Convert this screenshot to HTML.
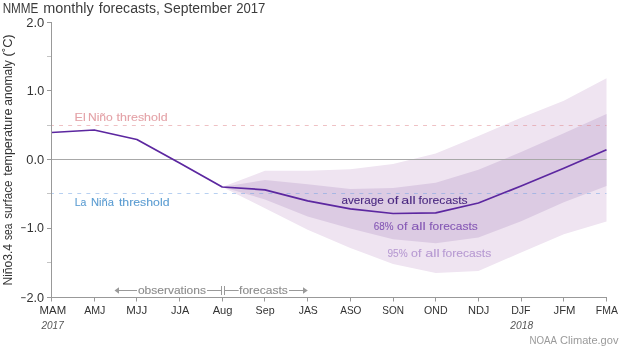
<!DOCTYPE html>
<html><head><meta charset="utf-8"><style>
html,body{margin:0;padding:0;background:#fff;}
svg{display:block;will-change:transform;font-family:"Liberation Sans",sans-serif;}
</style></head><body>
<svg width="620" height="347" viewBox="0 0 620 347">
<rect width="620" height="347" fill="#fff"/>
<polygon points="222.27,187.00 264.96,170.80 307.65,170.80 350.35,169.30 393.04,164.00 435.73,153.50 478.42,136.10 521.12,117.70 563.81,100.80 606.50,78.20 606.50,221.50 563.81,234.30 521.12,252.50 478.42,271.00 435.73,273.00 393.04,263.90 350.35,248.00 307.65,229.80 264.96,208.30 222.27,187.00" fill="#efe4f1"/>
<polygon points="222.27,187.00 264.96,180.00 307.65,184.20 350.35,189.00 393.04,188.00 435.73,182.70 478.42,169.80 521.12,152.00 563.81,133.30 606.50,114.00 606.50,186.00 563.81,202.30 521.12,221.20 478.42,237.40 435.73,243.20 393.04,239.30 350.35,228.60 307.65,216.50 264.96,199.40 222.27,187.00" fill="#dccbe3"/>
<line x1="51.5" y1="159.5" x2="606.5" y2="159.5" stroke="#a8a8a8" stroke-width="1"/>
<line x1="50" y1="125.5" x2="606.5" y2="125.5" stroke="#e0838a" stroke-opacity="0.5" stroke-width="1" stroke-dasharray="3.9,5.2"/>
<line x1="50" y1="193.5" x2="606.5" y2="193.5" stroke="#70a2e4" stroke-opacity="0.5" stroke-width="1" stroke-dasharray="3.9,5.2"/>
<polyline points="51.50,132.50 94.19,130.00 136.88,139.50 179.58,163.00 222.27,187.00 264.96,189.80 307.65,200.80 350.35,208.80 393.04,213.50 435.73,212.90 478.42,203.00 521.12,186.00 563.81,168.30 606.50,149.70" fill="none" stroke="#5c27a0" stroke-width="1.75" stroke-linejoin="round"/>
<line x1="51.5" y1="22" x2="51.5" y2="301.5" stroke="#999" stroke-width="1"/>
<line x1="47" y1="297.5" x2="607" y2="297.5" stroke="#999" stroke-width="1"/>
<line x1="47" y1="22.5" x2="51" y2="22.5" stroke="#999" stroke-width="1"/>
<line x1="47" y1="90.5" x2="51" y2="90.5" stroke="#999" stroke-width="1"/>
<line x1="47" y1="159.5" x2="51" y2="159.5" stroke="#999" stroke-width="1"/>
<line x1="47" y1="228.5" x2="51" y2="228.5" stroke="#999" stroke-width="1"/>
<line x1="47" y1="56.5" x2="51" y2="56.5" stroke="#c4c4c4" stroke-width="1"/>
<line x1="47" y1="125.5" x2="51" y2="125.5" stroke="#c4c4c4" stroke-width="1"/>
<line x1="47" y1="193.5" x2="51" y2="193.5" stroke="#c4c4c4" stroke-width="1"/>
<line x1="47" y1="262.5" x2="51" y2="262.5" stroke="#c4c4c4" stroke-width="1"/>
<line x1="94.5" y1="297" x2="94.5" y2="301.5" stroke="#999" stroke-width="1"/>
<line x1="136.5" y1="297" x2="136.5" y2="301.5" stroke="#999" stroke-width="1"/>
<line x1="179.5" y1="297" x2="179.5" y2="301.5" stroke="#999" stroke-width="1"/>
<line x1="222.5" y1="297" x2="222.5" y2="301.5" stroke="#999" stroke-width="1"/>
<line x1="264.5" y1="297" x2="264.5" y2="301.5" stroke="#999" stroke-width="1"/>
<line x1="307.5" y1="297" x2="307.5" y2="301.5" stroke="#999" stroke-width="1"/>
<line x1="350.5" y1="297" x2="350.5" y2="301.5" stroke="#999" stroke-width="1"/>
<line x1="393.5" y1="297" x2="393.5" y2="301.5" stroke="#999" stroke-width="1"/>
<line x1="435.5" y1="297" x2="435.5" y2="301.5" stroke="#999" stroke-width="1"/>
<line x1="478.5" y1="297" x2="478.5" y2="301.5" stroke="#999" stroke-width="1"/>
<line x1="521.5" y1="297" x2="521.5" y2="301.5" stroke="#999" stroke-width="1"/>
<line x1="563.5" y1="297" x2="563.5" y2="301.5" stroke="#999" stroke-width="1"/>
<line x1="606.5" y1="297" x2="606.5" y2="301.5" stroke="#999" stroke-width="1"/>
<line x1="118" y1="290.5" x2="137" y2="290.5" stroke="#9a9a9a" stroke-width="1"/>
<polygon points="114.5,290.5 119,287.3 119,293.7" fill="#9a9a9a"/>
<line x1="207" y1="290.5" x2="221.5" y2="290.5" stroke="#9a9a9a" stroke-width="1"/>
<line x1="224.5" y1="290.5" x2="238.7" y2="290.5" stroke="#9a9a9a" stroke-width="1"/>
<line x1="221.5" y1="286" x2="221.5" y2="295" stroke="#9a9a9a" stroke-width="1"/>
<line x1="224.5" y1="286" x2="224.5" y2="295" stroke="#9a9a9a" stroke-width="1"/>
<line x1="289" y1="290.5" x2="304" y2="290.5" stroke="#9a9a9a" stroke-width="1"/>
<polygon points="307.8,290.5 303,287.2 303,293.8" fill="#9a9a9a"/>
<text x="2.66" y="12.85" font-size="14" fill="#3c3c3c" textLength="35.78" lengthAdjust="spacingAndGlyphs">NMME</text>
<text x="43.20" y="12.85" font-size="14" fill="#3c3c3c" textLength="50.52" lengthAdjust="spacingAndGlyphs">monthly</text>
<text x="98.75" y="12.85" font-size="14" fill="#3c3c3c" textLength="61.25" lengthAdjust="spacingAndGlyphs">forecasts,</text>
<text x="163.58" y="12.85" font-size="14" fill="#3c3c3c" textLength="68.25" lengthAdjust="spacingAndGlyphs">September</text>
<text x="236.20" y="12.85" font-size="14" fill="#3c3c3c" textLength="29.23" lengthAdjust="spacingAndGlyphs">2017</text>
<text x="26.23" y="26.6" font-size="12.2" fill="#333" textLength="18.05" lengthAdjust="spacingAndGlyphs">2.0</text>
<text x="26.80" y="94.8" font-size="12.2" fill="#333" textLength="17.47" lengthAdjust="spacingAndGlyphs">1.0</text>
<text x="26.37" y="164" font-size="12.2" fill="#333" textLength="17.91" lengthAdjust="spacingAndGlyphs">0.0</text>
<text x="20.52" y="232" font-size="12.2" fill="#333" textLength="5.46" lengthAdjust="spacingAndGlyphs">&#8722;</text>
<text x="26.70" y="232" font-size="12.2" fill="#333" textLength="17.37" lengthAdjust="spacingAndGlyphs">1.0</text>
<text x="20.52" y="301.5" font-size="12.2" fill="#333" textLength="5.46" lengthAdjust="spacingAndGlyphs">&#8722;</text>
<text x="26.45" y="301.5" font-size="12.2" fill="#333" textLength="17.63" lengthAdjust="spacingAndGlyphs">2.0</text>
<text x="39.59" y="313.9" font-size="11" fill="#333" textLength="26.55" lengthAdjust="spacingAndGlyphs">MAM</text>
<text x="84.18" y="313.9" font-size="11" fill="#333" textLength="21.27" lengthAdjust="spacingAndGlyphs">AMJ</text>
<text x="126.29" y="313.9" font-size="11" fill="#333" textLength="21.04" lengthAdjust="spacingAndGlyphs">MJJ</text>
<text x="171.05" y="313.9" font-size="11" fill="#333" textLength="18.24" lengthAdjust="spacingAndGlyphs">JJA</text>
<text x="212.67" y="313.9" font-size="11" fill="#333" textLength="19.83" lengthAdjust="spacingAndGlyphs">Aug</text>
<text x="255.61" y="313.9" font-size="11" fill="#333" textLength="19.02" lengthAdjust="spacingAndGlyphs">Sep</text>
<text x="298.66" y="313.9" font-size="11" fill="#333" textLength="19.16" lengthAdjust="spacingAndGlyphs">JAS</text>
<text x="340.19" y="313.9" font-size="11" fill="#333" textLength="21.25" lengthAdjust="spacingAndGlyphs">ASO</text>
<text x="382.34" y="313.9" font-size="11" fill="#333" textLength="21.72" lengthAdjust="spacingAndGlyphs">SON</text>
<text x="424.02" y="313.9" font-size="11" fill="#333" textLength="23.53" lengthAdjust="spacingAndGlyphs">OND</text>
<text x="467.92" y="313.9" font-size="11" fill="#333" textLength="21.47" lengthAdjust="spacingAndGlyphs">NDJ</text>
<text x="511.16" y="313.9" font-size="11" fill="#333" textLength="19.44" lengthAdjust="spacingAndGlyphs">DJF</text>
<text x="553.54" y="313.9" font-size="11" fill="#333" textLength="21.96" lengthAdjust="spacingAndGlyphs">JFM</text>
<text x="595.87" y="313.9" font-size="11" fill="#333" textLength="22.02" lengthAdjust="spacingAndGlyphs">FMA</text>
<text x="41.40" y="328.5" font-size="11" fill="#555" font-style="italic" textLength="22.34" lengthAdjust="spacingAndGlyphs">2017</text>
<text x="510.30" y="328.5" font-size="11" fill="#555" font-style="italic" textLength="22.79" lengthAdjust="spacingAndGlyphs">2018</text>
<text x="529.43" y="343.7" font-size="11" fill="#9a9a9a" textLength="27.52" lengthAdjust="spacingAndGlyphs">NOAA</text>
<text x="560.00" y="343.7" font-size="11" fill="#9a9a9a" textLength="58.48" lengthAdjust="spacingAndGlyphs">Climate.gov</text>
<text x="74.63" y="121.1" font-size="11.3" fill="#e4a3a8" stroke="#e4a3a8" stroke-width="0.1" textLength="11.16" lengthAdjust="spacingAndGlyphs">El</text>
<text x="87.96" y="121.1" font-size="11.3" fill="#e4a3a8" stroke="#e4a3a8" stroke-width="0.1" textLength="24.86" lengthAdjust="spacingAndGlyphs">Ni&#241;o</text>
<text x="116.56" y="121.1" font-size="11.3" fill="#e4a3a8" stroke="#e4a3a8" stroke-width="0.1" textLength="51.04" lengthAdjust="spacingAndGlyphs">threshold</text>
<text x="74.79" y="206.4" font-size="11.3" fill="#5c9dd2" stroke="#5c9dd2" stroke-width="0.1" textLength="11.66" lengthAdjust="spacingAndGlyphs">La</text>
<text x="90.94" y="206.4" font-size="11.3" fill="#5c9dd2" stroke="#5c9dd2" stroke-width="0.1" textLength="22.95" lengthAdjust="spacingAndGlyphs">Ni&#241;a</text>
<text x="118.96" y="206.4" font-size="11.3" fill="#5c9dd2" stroke="#5c9dd2" stroke-width="0.1" textLength="50.53" lengthAdjust="spacingAndGlyphs">threshold</text>
<text x="341.50" y="203.9" font-size="11.6" fill="#4a2880" stroke="#4a2880" stroke-width="0.1" textLength="42.15" lengthAdjust="spacingAndGlyphs">average</text>
<text x="387.22" y="203.9" font-size="11.6" fill="#4a2880" stroke="#4a2880" stroke-width="0.1" textLength="11.13" lengthAdjust="spacingAndGlyphs">of</text>
<text x="401.39" y="203.9" font-size="11.6" fill="#4a2880" stroke="#4a2880" stroke-width="0.1" textLength="14.21" lengthAdjust="spacingAndGlyphs">all</text>
<text x="418.47" y="203.9" font-size="11.6" fill="#4a2880" stroke="#4a2880" stroke-width="0.1" textLength="49.19" lengthAdjust="spacingAndGlyphs">forecasts</text>
<text x="373.87" y="230" font-size="11.6" fill="#8558b5" stroke="#8558b5" stroke-width="0.1" textLength="19.73" lengthAdjust="spacingAndGlyphs">68%</text>
<text x="397.07" y="230" font-size="11.6" fill="#8558b5" stroke="#8558b5" stroke-width="0.1" textLength="10.29" lengthAdjust="spacingAndGlyphs">of</text>
<text x="411.18" y="230" font-size="11.6" fill="#8558b5" stroke="#8558b5" stroke-width="0.1" textLength="14.43" lengthAdjust="spacingAndGlyphs">all</text>
<text x="429.27" y="230" font-size="11.6" fill="#8558b5" stroke="#8558b5" stroke-width="0.1" textLength="48.48" lengthAdjust="spacingAndGlyphs">forecasts</text>
<text x="387.47" y="257.4" font-size="11.6" fill="#b79ad2" stroke="#b79ad2" stroke-width="0.1" textLength="20.14" lengthAdjust="spacingAndGlyphs">95%</text>
<text x="411.07" y="257.4" font-size="11.6" fill="#b79ad2" stroke="#b79ad2" stroke-width="0.1" textLength="10.29" lengthAdjust="spacingAndGlyphs">of</text>
<text x="425.18" y="257.4" font-size="11.6" fill="#b79ad2" stroke="#b79ad2" stroke-width="0.1" textLength="14.43" lengthAdjust="spacingAndGlyphs">all</text>
<text x="442.27" y="257.4" font-size="11.6" fill="#b79ad2" stroke="#b79ad2" stroke-width="0.1" textLength="48.99" lengthAdjust="spacingAndGlyphs">forecasts</text>
<text x="137.93" y="293.5" font-size="10.6" fill="#8c8c8c" stroke="#8c8c8c" stroke-width="0.1" textLength="68.06" lengthAdjust="spacingAndGlyphs">observations</text>
<text x="239.06" y="293.5" font-size="10.6" fill="#8c8c8c" stroke="#8c8c8c" stroke-width="0.1" textLength="48.77" lengthAdjust="spacingAndGlyphs">forecasts</text>
<text transform="translate(12.4,285.58) rotate(-90)" font-size="12.3" fill="#333" textLength="41.67" lengthAdjust="spacingAndGlyphs">Ni&#241;o3.4</text>
<text transform="translate(12.4,240.01) rotate(-90)" font-size="12.3" fill="#333" textLength="16.37" lengthAdjust="spacingAndGlyphs">sea</text>
<text transform="translate(12.4,218.86) rotate(-90)" font-size="12.3" fill="#333" textLength="38.41" lengthAdjust="spacingAndGlyphs">surface</text>
<text transform="translate(12.4,175.83) rotate(-90)" font-size="12.3" fill="#333" textLength="67.19" lengthAdjust="spacingAndGlyphs">temperature</text>
<text transform="translate(12.4,105.69) rotate(-90)" font-size="12.3" fill="#333" textLength="45.60" lengthAdjust="spacingAndGlyphs">anomaly</text>
<text transform="translate(12.4,56.38) rotate(-90)" font-size="12.3" fill="#333" textLength="22.01" lengthAdjust="spacingAndGlyphs">(&#730;C)</text>
</svg>
</body></html>
